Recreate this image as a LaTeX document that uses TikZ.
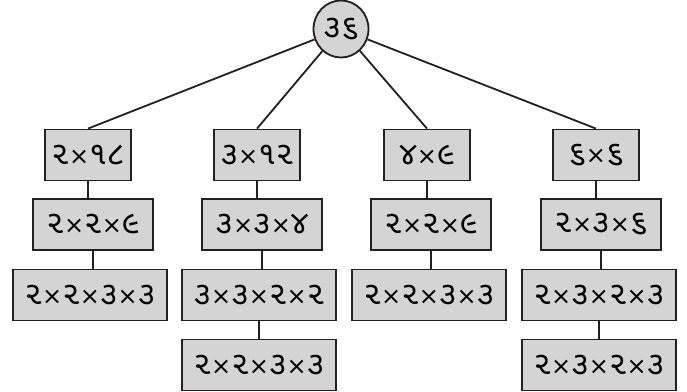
\documentclass[tikz,border=0pt]{standalone}
\usepackage{fontspec}
\usetikzlibrary{shapes.geometric}
\newfontfamily\guj[Script=Gujarati]{Noto Sans Gujarati UI}
\newfontfamily\symf{DejaVu Sans}
\definecolor{linec}{HTML}{231F20}
\definecolor{boxfill}{HTML}{D4D4D5}
\newcommand{\tm}{{\symf\fontsize{24}{24}\selectfont ×}}
\begin{document}
\begin{tikzpicture}[x=1pt,y=-1pt,
  box/.style={draw=linec, fill=boxfill, line width=1.8pt, minimum height=51pt, inner sep=0pt,
    font=\guj\fontsize{32}{32}\selectfont},
  conn/.style={draw=linec, line width=1.8pt}]
\useasboundingbox (0,0) rectangle (687,391);
\node[box, ellipse, minimum width=55pt, minimum height=57pt] (r) at (341,29) {૩૬};
% level 1
\node[box, minimum width=86pt] (a1) at (88,155) {૨\tm૧૮};
\node[box, minimum width=86pt] (b1) at (257,155) {૩\tm૧૨};
\node[box, minimum width=86pt] (c1) at (427,155) {૪\tm૯};
\node[box, minimum width=86pt] (d1) at (596,155) {૬\tm૬};
% level 2
\node[box, minimum width=120pt] (a2) at (93,224.5) {૨\tm૨\tm૯};
\node[box, minimum width=120pt] (b2) at (262,224.5) {૩\tm૩\tm૪};
\node[box, minimum width=120pt] (c2) at (431,224.5) {૨\tm૨\tm૯};
\node[box, minimum width=120pt] (d2) at (601,224.5) {૨\tm૩\tm૬};
% level 3
\node[box, minimum width=154pt] (a3) at (90,295) {૨\tm૨\tm૩\tm૩};
\node[box, minimum width=154pt] (b3) at (259,295) {૩\tm૩\tm૨\tm૨};
\node[box, minimum width=154pt] (c3) at (429,295) {૨\tm૨\tm૩\tm૩};
\node[box, minimum width=154pt] (d3) at (599,295) {૨\tm૩\tm૨\tm૩};
% level 4
\node[box, minimum width=154pt] (b4) at (259,365) {૨\tm૨\tm૩\tm૩};
\node[box, minimum width=154pt] (d4) at (599,365) {૨\tm૩\tm૨\tm૩};
% connectors
\foreach \n in {a1,b1,c1,d1} \draw[conn] (r) -- (\n.north);
\foreach \p/\c in {a1/a2,a2/a3,b1/b2,b2/b3,b3/b4,c1/c2,c2/c3,d1/d2,d2/d3,d3/d4}
  \draw[conn] (\p.south) -- (\p.south |- \c.north);
\end{tikzpicture}
\end{document}
